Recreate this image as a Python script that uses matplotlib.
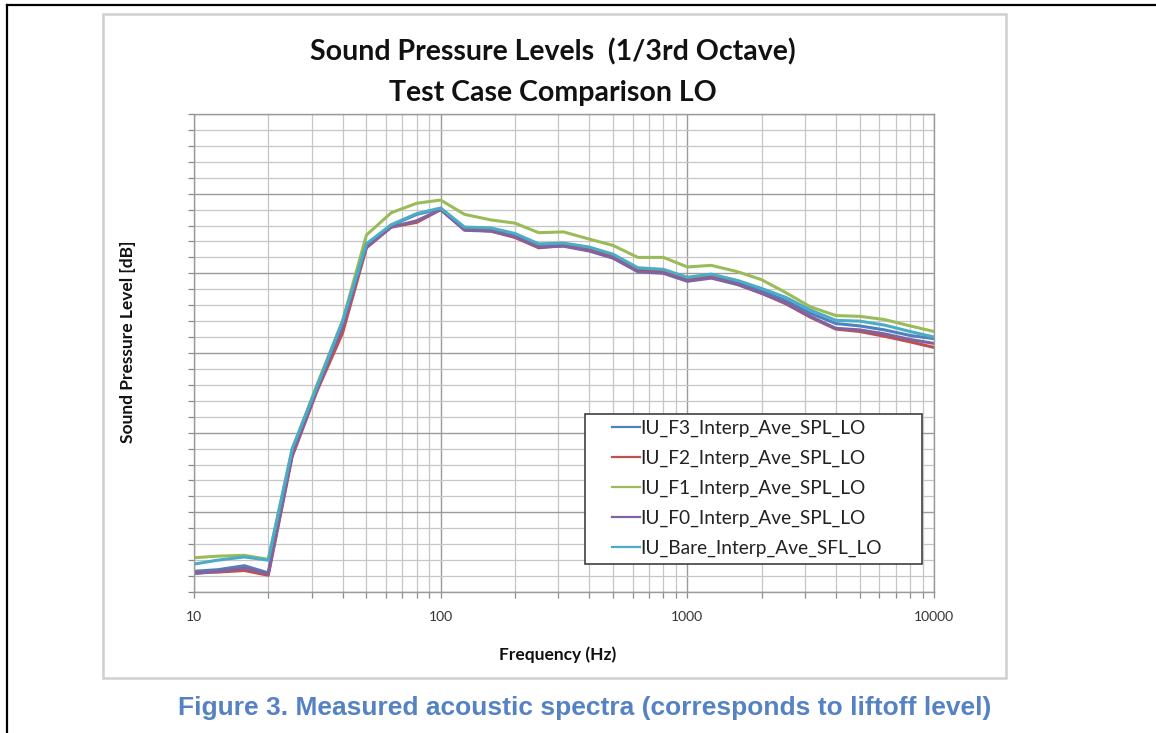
import matplotlib
matplotlib.use("Agg")
import matplotlib.pyplot as plt
from matplotlib.lines import Line2D
from matplotlib.patches import Rectangle
from matplotlib.ticker import LogLocator, MultipleLocator, NullFormatter, FixedLocator, FixedFormatter

# 1/3 octave centre frequencies (Hz)
freqs = [10, 12.5, 16, 20, 25, 31.5, 40, 50, 63, 80, 100, 125, 160, 200, 250, 315,
         400, 500, 630, 800, 1000, 1250, 1600, 2000, 2500, 3150, 4000, 5000, 6300, 8000, 10000]

spl_f3 = [102.6, 102.8, 103.3, 102.4, 117.4, 125.6, 133.6, 143.5, 146.0, 147.4, 148.1, 145.6,
          145.5, 144.8, 143.5, 143.6, 143.0, 142.1, 140.4, 140.2, 139.2, 139.6, 138.8, 137.8,
          136.6, 135.0, 133.7, 133.4, 132.9, 132.2, 131.8]
spl_f2 = [102.4, 102.5, 102.7, 102.1, 117.0, 125.2, 132.5, 143.2, 145.8, 146.4, 148.0, 145.5,
          145.3, 144.5, 143.2, 143.5, 142.9, 142.0, 140.3, 140.1, 139.1, 139.5, 138.6, 137.5,
          136.2, 134.5, 133.0, 132.7, 132.1, 131.4, 130.7]
spl_f1 = [104.3, 104.5, 104.6, 104.1, 117.8, 126.0, 134.0, 144.8, 147.6, 148.8, 149.2, 147.4,
          146.7, 146.3, 145.1, 145.2, 144.3, 143.5, 142.0, 142.0, 140.8, 141.0, 140.2, 139.2,
          137.6, 135.8, 134.7, 134.6, 134.2, 133.4, 132.7]
spl_f0 = [102.3, 102.6, 103.0, 102.3, 117.2, 125.4, 133.3, 143.3, 145.8, 146.6, 148.0, 145.4,
          145.3, 144.6, 143.3, 143.4, 142.8, 141.9, 140.2, 140.0, 139.0, 139.4, 138.6, 137.5,
          136.3, 134.6, 133.1, 132.9, 132.4, 131.7, 131.2]
spl_bare = [103.5, 104.0, 104.4, 104.0, 118.0, 125.8, 134.0, 143.7, 146.1, 147.5, 148.2, 145.8,
            145.7, 145.0, 143.7, 143.8, 143.3, 142.4, 140.7, 140.5, 139.5, 139.9, 139.1, 138.1,
            137.0, 135.4, 134.1, 134.0, 133.5, 132.7, 132.0]

series_names = ["IU_F3_Interp_Ave_SPL_LO", "IU_F2_Interp_Ave_SPL_LO", "IU_F1_Interp_Ave_SPL_LO",
                "IU_F0_Interp_Ave_SPL_LO", "IU_Bare_Interp_Ave_SFL_LO"]
series_colors = ["#4F81BD", "#C0504D", "#9BBB59", "#8064A2", "#4BACC6"]

x_ticks = [10, 100, 1000, 10000]
x_tick_labels = ["10", "100", "1000", "10000"]

W, H = 1156, 733
fig = plt.figure(figsize=(W / 100, H / 100), dpi=100)
fig.patch.set_facecolor("white")

# page frame lines (top and left)
fig.add_artist(Line2D([0.006, 1.0], [0.9932, 0.9932], color="black", lw=1.6, transform=fig.transFigure))
fig.add_artist(Line2D([0.006, 0.006], [0.0, 0.9932], color="black", lw=1.6, transform=fig.transFigure))

# chart panel border
fig.add_artist(Rectangle((103 / W, 1 - 678 / H), 903 / W, 664 / H, transform=fig.transFigure,
                         facecolor="none", edgecolor="#cfcfcf", lw=1.8))

ax = fig.add_axes([194 / W, 1 - 592 / H, 740 / W, 478 / H])

all_series = [spl_f3, spl_f2, spl_f1, spl_f0, spl_bare]
for vals, name, col in zip(all_series, series_names, series_colors):
    ax.plot(freqs, vals, color=col, lw=2.2, label=name, solid_joinstyle="round")

ax.set_xscale("log")
ax.set_xlim(10, 10000)
ax.set_ylim(100, 160)

ax.xaxis.set_major_locator(FixedLocator(x_ticks))
ax.xaxis.set_major_formatter(FixedFormatter(x_tick_labels))
ax.xaxis.set_minor_locator(LogLocator(base=10, subs=range(2, 10)))
ax.xaxis.set_minor_formatter(NullFormatter())
ax.yaxis.set_major_locator(MultipleLocator(10))
ax.yaxis.set_minor_locator(MultipleLocator(2))
ax.set_yticklabels([])

ax.grid(which="major", color="#9a9a9a", lw=1.0)
ax.grid(which="minor", color="#c6c6c6", lw=0.9)
ax.set_axisbelow(True)

for s in ax.spines.values():
    s.set_color("#9a9a9a")
    s.set_linewidth(1.0)

ax.tick_params(axis="both", which="both", direction="out", color="#8a8a8a", length=4, width=0.9)
ax.tick_params(axis="x", which="major", labelsize=10, labelcolor="#333333", pad=10)
for lbl in ax.get_xticklabels():
    lbl.set_family("Lato")

# legend box drawn by hand so the padding matches the original
ax.add_patch(Rectangle((585 / W, 1 - 564 / H), 337 / W, 150 / H, transform=fig.transFigure,
                       facecolor="white", edgecolor="#404040", lw=1.2, zorder=4))
leg = ax.legend(loc="upper left", bbox_to_anchor=(612 / W, 1 - 420 / H), bbox_transform=fig.transFigure,
                prop={"family": "Lato", "size": 13.8}, handlelength=1.45, handletextpad=0.05,
                labelspacing=0.66, borderpad=0, borderaxespad=0, frameon=False)
leg.set_zorder(5)
for t in leg.get_texts():
    t.set_color("#222222")
for h in leg.get_lines():
    h.set_linewidth(1.6)

fig.text(553 / W, 1 - 52 / H, "Sound Pressure Levels  (1/3rd Octave)", ha="center", va="center",
         family="Lato", weight="bold", size=20.5, color="#111111")
fig.text(553 / W, 1 - 93 / H, "Test Case Comparison LO", ha="center", va="center",
         family="Lato", weight="bold", size=20.5, color="#111111")
fig.text(558 / W, 1 - 655 / H, "Frequency (Hz)", ha="center", va="center",
         family="Lato", weight="bold", size=12.5, color="#111111")
fig.text(128 / W, 1 - 342 / H, "Sound Pressure Level [dB]", ha="center", va="center", rotation=90,
         family="Lato", weight="bold", size=12.5, color="#111111")

fig.text(585 / W, 1 - 708 / H, "Figure 3. Measured acoustic spectra (corresponds to liftoff level)",
         ha="center", va="center", family="Liberation Sans", weight="bold", size=19, color="#5582C2")

fig.savefig("out.png", dpi=100)
